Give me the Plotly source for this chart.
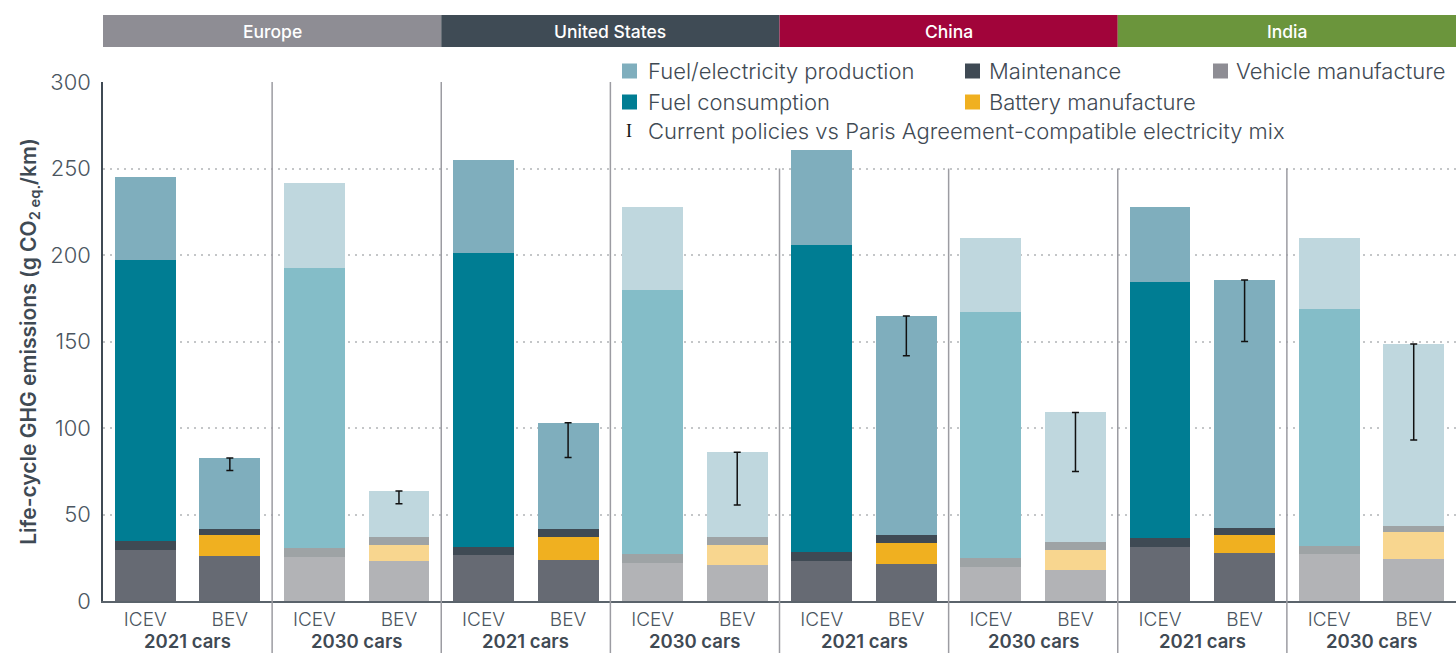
import plotly.graph_objects as go

# ---------------- data ----------------
regions = ["Europe", "United States", "China", "India"]
region_colors = ["#8e8d94", "#3f4b55", "#a1043a", "#6b953c"]
year_labels = ["2021 cars", "2030 cars"]
powertrains = ["ICEV", "BEV"]

# bar order inside each region: 2021 ICEV, 2021 BEV, 2030 ICEV, 2030 BEV
bar_year = ["2021", "2021", "2030", "2030"] * 4
bar_type = ["ICEV", "BEV", "ICEV", "BEV"] * 4

vehicle_manufacture = [29.5, 26.0, 25.4, 23.0,
                       26.6, 23.7, 22.0, 20.8,
                       23.1, 21.4, 19.7, 17.9,
                       31.2, 27.7, 27.2, 24.3]
battery_manufacture = [0, 12.0, 0, 9.4,
                       0, 13.3, 0, 11.6,
                       0, 12.1, 0, 11.6,
                       0, 10.5, 0, 15.6]
maintenance = [5.2, 3.6, 5.2, 4.6,
               4.6, 4.6, 5.2, 4.6,
               5.2, 4.5, 5.2, 4.5,
               5.2, 4.0, 4.6, 3.5]
fuel_consumption = [162.3, 0, 161.9, 0,
                    169.8, 0, 152.8, 0,
                    177.7, 0, 142.1, 0,
                    148.0, 0, 137.0, 0]
fuel_electricity_production = [48.0, 41.1, 49.1, 26.6,
                                54.0, 61.4, 48.0, 49.0,
                                54.7, 126.7, 43.0, 75.0,
                                43.6, 143.3, 41.2, 105.2]
# lower end of the electricity-mix range (Paris Agreement-compatible) for BEVs
paris_lower = [None, 75.5, None, 56.2,
               None, 83.0, None, 55.5,
               None, 141.8, None, 74.8,
               None, 150.0, None, 93.0]

y_ticks = [0, 50, 100, 150, 200, 250, 300]

# ---------------- styles ----------------
colors_2021 = {
    "vehicle": "#666a73", "battery": "#f0b020", "maintenance": "#3f4a54",
    "consumption": "#007d93", "production": "#7faebd",
}
colors_2030 = {
    "vehicle": "#b2b3b6", "battery": "#f8d68f", "maintenance": "#9ea3a5",
    "consumption": "#84bdc8", "production": "#bfd7de",
}
legend_colors = {
    "production": "#7faebd", "maintenance": "#3f4a54", "vehicle": "#8e8d94",
    "consumption": "#007d93", "battery": "#f0b020",
}
TEXT = "#3f4a54"
TICK = "#4a5560"
FONT = "Inter"

W, H = 1456, 653
L, T, B, R = 103, 82, 52, 0
PW, PH = W - L - R, H - T - B


def px_x(px):
    return (px - L) / PW


def px_y(py):
    return (H - B - py) / PH


n = len(bar_type)
x_idx = list(range(n))

fig = go.Figure()

components = [
    ("vehicle", "Vehicle manufacture", vehicle_manufacture),
    ("battery", "Battery manufacture", battery_manufacture),
    ("maintenance", "Maintenance", maintenance),
    ("consumption", "Fuel consumption", fuel_consumption),
    ("production", "Fuel/electricity production", fuel_electricity_production),
]
for key, name, vals in components:
    cols = [colors_2021[key] if yr == "2021" else colors_2030[key] for yr in bar_year]
    fig.add_trace(go.Bar(
        x=x_idx, y=vals, name=name,
        marker=dict(color=cols, line=dict(width=0)),
        showlegend=False, hoverinfo="name+y",
    ))

totals = [sum(c[2][i] for c in components) for i in range(n)]
err_x = [i for i in range(n) if paris_lower[i] is not None]
err_y = [totals[i] for i in err_x]
err_minus = [totals[i] - paris_lower[i] for i in err_x]
fig.add_trace(go.Scatter(
    x=err_x, y=err_y, mode="markers",
    marker=dict(size=1, color="rgba(0,0,0,0)"),
    error_y=dict(type="data", symmetric=False, array=[0] * len(err_x),
                 arrayminus=err_minus, color="#111111", thickness=1.5, width=3.5),
    showlegend=False, hoverinfo="skip",
))

fig.update_layout(
    barmode="stack", bargap=0.28,
    width=W, height=H,
    margin=dict(l=L, r=R, t=T, b=B),
    paper_bgcolor="white", plot_bgcolor="white",
    font=dict(family=FONT, color=TEXT),
    showlegend=False,
)
fig.update_xaxes(
    range=[-0.5, n - 0.5], tickmode="array", tickvals=x_idx, ticktext=bar_type,
    tickfont=dict(size=19, color=TICK, family=FONT, weight=300), ticks="",
    showgrid=False, zeroline=False,
    showline=True, linecolor="#5a636b", linewidth=2,
)
fig.update_yaxes(
    range=[0, 300], tickmode="array", tickvals=y_ticks,
    tickfont=dict(size=22, color=TICK, family=FONT, weight=300), ticks="",
    showgrid=True, gridcolor="#c4c6c8", griddash="2px,5px", gridwidth=1.5,
    zeroline=False, showline=True, linecolor="#3f4a54", linewidth=1.5,
    ticklabelstandoff=6,
    title=dict(text="Life-cycle GHG emissions (g CO<sub>2 eq.</sub>/km)",
               font=dict(size=21, color=TEXT, family=FONT, weight=600), standoff=8),
)

shapes = []
annotations = []

# white area behind legend (hides gridlines there)
shapes.append(dict(type="rect", xref="x", yref="paper", x0=5.52, x1=n - 0.5,
                   y0=px_y(160), y1=px_y(50), fillcolor="white",
                   line=dict(width=0), layer="between"))

# separators between year groups
for k in range(1, n // 2):
    xs = 2 * k - 0.5
    top = 300 if xs < 5.6 else 250
    shapes.append(dict(type="line", xref="x", yref="y", x0=xs, x1=xs,
                       y0=top, y1=0, line=dict(color="#9c9ca2", width=1.5),
                       layer="above"))
    shapes.append(dict(type="line", xref="x", yref="paper", x0=xs, x1=xs,
                       y0=0, y1=-B / PH, line=dict(color="#9c9ca2", width=1.5),
                       layer="above"))

# region header bars
for r, (reg, col) in enumerate(zip(regions, region_colors)):
    x0 = 4 * r - 0.5
    x1 = 4 * r + 3.5
    shapes.append(dict(type="rect", xref="x", yref="paper", x0=x0, x1=x1,
                       y0=px_y(47), y1=px_y(15), fillcolor=col,
                       line=dict(width=0), layer="above"))
    annotations.append(dict(xref="x", yref="paper", x=(x0 + x1) / 2, y=px_y(31),
                            text=reg, showarrow=False,
                            font=dict(size=17.5, color="white", family=FONT, weight=500),
                            xanchor="center", yanchor="middle"))

# year group labels
for g in range(n // 2):
    annotations.append(dict(xref="x", yref="paper", x=2 * g + 0.5, y=px_y(640.5),
                            text=year_labels[g % 2], showarrow=False,
                            font=dict(size=18.5, color=TEXT, family=FONT, weight=600),
                            xanchor="center", yanchor="middle"))

# custom legend
legend_items = [
    ("production", "Fuel/electricity production", 622, 71),
    ("maintenance", "Maintenance", 965, 71),
    ("vehicle", "Vehicle manufacture", 1213, 71),
    ("consumption", "Fuel consumption", 622, 102),
    ("battery", "Battery manufacture", 965, 102),
]
sw = 15
text_gap = {622: 24, 965: 22, 1213: 21}
for key, label, px0, py in legend_items:
    shapes.append(dict(type="rect", xref="paper", yref="paper",
                       x0=px_x(px0), x1=px_x(px0 + sw),
                       y0=px_y(py + sw / 2), y1=px_y(py - sw / 2),
                       fillcolor=legend_colors[key], line=dict(width=0)))
    annotations.append(dict(xref="paper", yref="paper", x=px_x(px0 + text_gap[px0]),
                            y=px_y(py), text=label, showarrow=False,
                            font=dict(size=22, color=TEXT, family=FONT, weight=300),
                            xanchor="left", yanchor="middle"))
annotations.append(dict(xref="paper", yref="paper", x=px_x(629), y=px_y(131),
                        text="I", showarrow=False,
                        font=dict(size=18, color="#111111", family="Liberation Serif"),
                        xanchor="center", yanchor="middle"))
annotations.append(dict(xref="paper", yref="paper", x=px_x(646), y=px_y(131),
                        text="Current policies vs Paris Agreement-compatible electricity mix",
                        showarrow=False,
                        font=dict(size=22, color=TEXT, family=FONT, weight=300),
                        xanchor="left", yanchor="middle"))

fig.update_layout(shapes=shapes, annotations=annotations)

fig.write_html(
    "out.html",
    config={"displayModeBar": False},
    post_script="document.body.style.margin='0';document.body.style.overflow='hidden';",
)
